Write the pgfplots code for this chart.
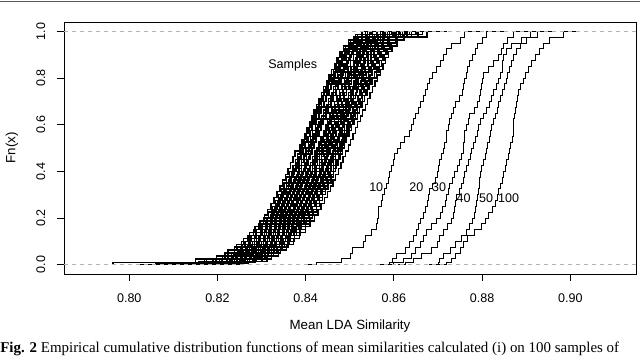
\documentclass[border=0pt]{standalone}
\usepackage{fontspec}
\setmainfont{Liberation Sans}
\newfontfamily\capfont{Liberation Serif}
\usepackage{pgfplots}
\usepackage{pgfplotstable}
\pgfplotsset{compat=1.18}
\definecolor{gray70}{RGB}{179,179,179}

% ECDFs of the samples, one column per sample
\pgfplotstableread{
F c1 c2 c3 c4 c5 c6 c7 c8 c9 c10 c11 c12 c13 c14 c15 c16 c17 c18 c19 c20
0 0.8070 0.7961 0.8100 0.8030 0.8120 0.8055 0.8135 0.8090 0.8150 0.8110 0.8160 0.8125 0.8175 0.8145 0.8185 0.8165 0.8195 0.8180 0.8205 0.8215
0.01 0.8110 0.7963 0.8140 0.8070 0.8160 0.8095 0.8175 0.8130 0.8190 0.8150 0.8200 0.8165 0.8215 0.8185 0.8225 0.8205 0.8235 0.8220 0.8245 0.8255
0.025 0.8170 0.8150 0.8196 0.8175 0.8210 0.8190 0.8222 0.8205 0.8232 0.8228 0.8238 0.8230 0.8250 0.8245 0.8258 0.8252 0.8268 0.8262 0.8280 0.8285
0.05 0.8217 0.8224 0.8232 0.8236 0.8242 0.8246 0.8252 0.8256 0.8262 0.8266 0.8272 0.8276 0.8282 0.8286 0.8292 0.8296 0.8302 0.8308 0.8314 0.8322
0.075 0.8238 0.8245 0.8253 0.8257 0.8263 0.8267 0.8273 0.8277 0.8283 0.8287 0.8293 0.8297 0.8303 0.8307 0.8313 0.8317 0.8323 0.8329 0.8335 0.8343
0.1 0.8255 0.8262 0.8270 0.8274 0.8280 0.8284 0.8290 0.8294 0.8300 0.8304 0.8310 0.8314 0.8320 0.8324 0.8330 0.8334 0.8340 0.8346 0.8352 0.8360
0.125 0.8269 0.8276 0.8284 0.8288 0.8294 0.8298 0.8304 0.8308 0.8314 0.8318 0.8324 0.8328 0.8334 0.8338 0.8344 0.8348 0.8354 0.8360 0.8366 0.8374
0.15 0.8282 0.8289 0.8297 0.8301 0.8307 0.8311 0.8317 0.8321 0.8327 0.8331 0.8337 0.8341 0.8347 0.8351 0.8357 0.8361 0.8367 0.8373 0.8379 0.8387
0.175 0.8294 0.8301 0.8309 0.8313 0.8319 0.8323 0.8329 0.8333 0.8339 0.8343 0.8349 0.8353 0.8359 0.8363 0.8369 0.8373 0.8379 0.8385 0.8391 0.8399
0.2 0.8305 0.8312 0.8320 0.8324 0.8330 0.8334 0.8340 0.8344 0.8350 0.8354 0.8360 0.8364 0.8370 0.8374 0.8380 0.8384 0.8390 0.8396 0.8402 0.8410
0.225 0.8316 0.8322 0.8326 0.8334 0.8336 0.8344 0.8346 0.8354 0.8356 0.8364 0.8366 0.8374 0.8376 0.8384 0.8386 0.8394 0.8396 0.8406 0.8408 0.8416
0.25 0.8324 0.8330 0.8334 0.8342 0.8344 0.8352 0.8354 0.8362 0.8364 0.8372 0.8374 0.8382 0.8384 0.8392 0.8394 0.8402 0.8404 0.8414 0.8416 0.8424
0.275 0.8331 0.8337 0.8341 0.8349 0.8351 0.8359 0.8361 0.8369 0.8371 0.8379 0.8381 0.8389 0.8391 0.8399 0.8401 0.8409 0.8411 0.8421 0.8423 0.8431
0.3 0.8338 0.8344 0.8348 0.8356 0.8358 0.8366 0.8368 0.8376 0.8378 0.8386 0.8388 0.8396 0.8398 0.8406 0.8408 0.8416 0.8418 0.8428 0.8430 0.8438
0.325 0.8345 0.8351 0.8355 0.8363 0.8365 0.8373 0.8375 0.8383 0.8385 0.8393 0.8395 0.8403 0.8405 0.8413 0.8415 0.8423 0.8425 0.8435 0.8437 0.8445
0.35 0.8351 0.8357 0.8361 0.8369 0.8371 0.8379 0.8381 0.8389 0.8391 0.8399 0.8401 0.8409 0.8411 0.8419 0.8421 0.8429 0.8431 0.8441 0.8443 0.8451
0.375 0.8357 0.8363 0.8367 0.8375 0.8377 0.8385 0.8387 0.8395 0.8397 0.8405 0.8407 0.8415 0.8417 0.8425 0.8427 0.8435 0.8437 0.8447 0.8449 0.8457
0.4 0.8363 0.8369 0.8373 0.8381 0.8383 0.8391 0.8393 0.8401 0.8403 0.8411 0.8413 0.8421 0.8423 0.8431 0.8433 0.8441 0.8443 0.8453 0.8455 0.8463
0.425 0.8371 0.8377 0.8379 0.8385 0.8391 0.8399 0.8397 0.8409 0.8411 0.8415 0.8421 0.8425 0.8431 0.8439 0.8437 0.8447 0.8451 0.8457 0.8463 0.8467
0.45 0.8377 0.8383 0.8385 0.8391 0.8397 0.8405 0.8403 0.8415 0.8417 0.8421 0.8427 0.8431 0.8437 0.8445 0.8443 0.8453 0.8457 0.8463 0.8469 0.8473
0.475 0.8382 0.8388 0.8390 0.8396 0.8402 0.8410 0.8408 0.8420 0.8422 0.8426 0.8432 0.8436 0.8442 0.8450 0.8448 0.8458 0.8462 0.8468 0.8474 0.8478
0.5 0.8387 0.8393 0.8395 0.8401 0.8407 0.8415 0.8413 0.8425 0.8427 0.8431 0.8437 0.8441 0.8447 0.8455 0.8453 0.8463 0.8467 0.8473 0.8479 0.8483
0.525 0.8392 0.8398 0.8400 0.8406 0.8412 0.8420 0.8418 0.8430 0.8432 0.8436 0.8442 0.8446 0.8452 0.8460 0.8458 0.8468 0.8472 0.8478 0.8484 0.8488
0.55 0.8397 0.8403 0.8405 0.8411 0.8417 0.8425 0.8423 0.8435 0.8437 0.8441 0.8447 0.8451 0.8457 0.8465 0.8463 0.8473 0.8477 0.8483 0.8489 0.8493
0.575 0.8402 0.8408 0.8410 0.8416 0.8422 0.8430 0.8428 0.8440 0.8442 0.8446 0.8452 0.8456 0.8462 0.8470 0.8468 0.8478 0.8482 0.8488 0.8494 0.8498
0.6 0.8408 0.8414 0.8416 0.8422 0.8428 0.8436 0.8434 0.8446 0.8448 0.8452 0.8458 0.8462 0.8468 0.8476 0.8474 0.8484 0.8488 0.8494 0.8500 0.8504
0.625 0.8415 0.8419 0.8423 0.8425 0.8435 0.8439 0.8441 0.8449 0.8457 0.8455 0.8465 0.8465 0.8475 0.8479 0.8481 0.8487 0.8495 0.8497 0.8507 0.8511
0.65 0.8421 0.8425 0.8429 0.8431 0.8441 0.8445 0.8447 0.8455 0.8463 0.8461 0.8471 0.8471 0.8481 0.8485 0.8487 0.8493 0.8501 0.8503 0.8513 0.8517
0.675 0.8426 0.8430 0.8434 0.8436 0.8446 0.8450 0.8452 0.8460 0.8468 0.8466 0.8476 0.8476 0.8486 0.8490 0.8492 0.8498 0.8506 0.8508 0.8518 0.8522
0.7 0.8432 0.8436 0.8440 0.8442 0.8452 0.8456 0.8458 0.8466 0.8474 0.8472 0.8482 0.8482 0.8492 0.8496 0.8498 0.8504 0.8512 0.8514 0.8524 0.8528
0.725 0.8437 0.8441 0.8445 0.8447 0.8457 0.8461 0.8463 0.8471 0.8479 0.8477 0.8487 0.8487 0.8497 0.8501 0.8503 0.8509 0.8517 0.8519 0.8529 0.8533
0.75 0.8443 0.8447 0.8451 0.8453 0.8463 0.8467 0.8469 0.8477 0.8485 0.8483 0.8493 0.8493 0.8503 0.8507 0.8509 0.8515 0.8523 0.8525 0.8535 0.8539
0.775 0.8448 0.8452 0.8456 0.8458 0.8468 0.8472 0.8474 0.8482 0.8490 0.8488 0.8498 0.8498 0.8508 0.8512 0.8514 0.8520 0.8528 0.8530 0.8540 0.8544
0.8 0.8454 0.8458 0.8462 0.8464 0.8474 0.8478 0.8480 0.8488 0.8496 0.8494 0.8504 0.8504 0.8514 0.8518 0.8520 0.8526 0.8534 0.8536 0.8546 0.8550
0.825 0.8463 0.8466 0.8472 0.8468 0.8482 0.8480 0.8490 0.8496 0.8504 0.8498 0.8512 0.8508 0.8522 0.8522 0.8530 0.8528 0.8542 0.8538 0.8556 0.8560
0.85 0.8469 0.8472 0.8478 0.8474 0.8488 0.8486 0.8496 0.8502 0.8510 0.8504 0.8518 0.8514 0.8528 0.8528 0.8536 0.8534 0.8548 0.8544 0.8562 0.8566
0.875 0.8475 0.8478 0.8484 0.8480 0.8494 0.8492 0.8502 0.8508 0.8516 0.8510 0.8524 0.8520 0.8534 0.8534 0.8542 0.8540 0.8554 0.8550 0.8568 0.8572
0.9 0.8482 0.8485 0.8491 0.8487 0.8501 0.8499 0.8509 0.8515 0.8523 0.8517 0.8531 0.8527 0.8541 0.8541 0.8549 0.8547 0.8561 0.8557 0.8575 0.8579
0.925 0.8489 0.8492 0.8498 0.8494 0.8508 0.8506 0.8516 0.8522 0.8530 0.8524 0.8538 0.8534 0.8548 0.8548 0.8556 0.8554 0.8568 0.8564 0.8582 0.8586
0.95 0.8498 0.8501 0.8507 0.8503 0.8517 0.8515 0.8525 0.8531 0.8539 0.8533 0.8547 0.8543 0.8557 0.8557 0.8565 0.8563 0.8577 0.8573 0.8591 0.8595
0.975 0.8510 0.8513 0.8519 0.8515 0.8529 0.8527 0.8537 0.8543 0.8551 0.8545 0.8559 0.8555 0.8569 0.8569 0.8577 0.8575 0.8589 0.8585 0.8603 0.8607
1 0.8540 0.8528 0.8552 0.8560 0.8545 0.8570 0.8562 0.8590 0.8580 0.8600 0.8585 0.8610 0.8598 0.8620 0.8605 0.8640 0.8615 0.8655 0.8630 0.8675
1 0.8585 0.8573 0.8597 0.8605 0.8590 0.8615 0.8607 0.8635 0.8625 0.8645 0.8630 0.8655 0.8643 0.8665 0.8650 0.8685 0.8660 0.8700 0.8675 0.8720
}\band

% more samples, with their steps at other heights
\pgfplotstableread{
F d1 d2 d3 d4 d5 d6 d7 d8 d9 d10 d11 d12
0 0.8020 0.8080 0.8105 0.8040 0.8130 0.8090 0.8150 0.8120 0.8165 0.8140 0.8190 0.8200
0.005 0.8060 0.8120 0.8145 0.8080 0.8170 0.8130 0.8190 0.8160 0.8205 0.8180 0.8230 0.8240
0.0125 0.8157 0.8171 0.8182 0.8192 0.8202 0.8212 0.8222 0.8232 0.8242 0.8248 0.8260 0.8271
0.0375 0.8198 0.8212 0.8223 0.8233 0.8243 0.8253 0.8263 0.8273 0.8283 0.8289 0.8301 0.8312
0.0625 0.8224 0.8238 0.8249 0.8259 0.8269 0.8279 0.8289 0.8299 0.8309 0.8315 0.8327 0.8338
0.0875 0.8243 0.8257 0.8268 0.8278 0.8288 0.8298 0.8308 0.8318 0.8328 0.8334 0.8346 0.8357
0.1125 0.8259 0.8273 0.8284 0.8294 0.8304 0.8314 0.8324 0.8334 0.8344 0.8350 0.8362 0.8373
0.1375 0.8272 0.8286 0.8297 0.8307 0.8317 0.8327 0.8337 0.8347 0.8357 0.8363 0.8375 0.8386
0.1625 0.8285 0.8299 0.8310 0.8320 0.8330 0.8340 0.8350 0.8360 0.8370 0.8376 0.8388 0.8399
0.1875 0.8296 0.8310 0.8321 0.8331 0.8341 0.8351 0.8361 0.8371 0.8381 0.8387 0.8399 0.8410
0.2125 0.8306 0.8320 0.8331 0.8341 0.8351 0.8361 0.8371 0.8381 0.8391 0.8397 0.8409 0.8420
0.2375 0.8314 0.8328 0.8339 0.8349 0.8359 0.8369 0.8379 0.8389 0.8399 0.8405 0.8417 0.8428
0.2625 0.8321 0.8335 0.8346 0.8356 0.8366 0.8376 0.8386 0.8396 0.8406 0.8412 0.8424 0.8435
0.2875 0.8328 0.8342 0.8353 0.8363 0.8373 0.8383 0.8393 0.8403 0.8413 0.8419 0.8431 0.8442
0.3125 0.8335 0.8349 0.8360 0.8370 0.8380 0.8390 0.8400 0.8410 0.8420 0.8426 0.8438 0.8449
0.3375 0.8342 0.8356 0.8367 0.8377 0.8387 0.8397 0.8407 0.8417 0.8427 0.8433 0.8445 0.8456
0.3625 0.8348 0.8362 0.8373 0.8383 0.8393 0.8403 0.8413 0.8423 0.8433 0.8439 0.8451 0.8462
0.3875 0.8354 0.8368 0.8379 0.8389 0.8399 0.8409 0.8419 0.8429 0.8439 0.8445 0.8457 0.8468
0.4125 0.8360 0.8374 0.8385 0.8395 0.8405 0.8415 0.8425 0.8435 0.8445 0.8451 0.8463 0.8474
0.4375 0.8366 0.8380 0.8391 0.8401 0.8411 0.8421 0.8431 0.8441 0.8451 0.8457 0.8469 0.8480
0.4625 0.8371 0.8385 0.8396 0.8406 0.8416 0.8426 0.8436 0.8446 0.8456 0.8462 0.8474 0.8485
0.4875 0.8376 0.8390 0.8401 0.8411 0.8421 0.8431 0.8441 0.8451 0.8461 0.8467 0.8479 0.8490
0.5125 0.8387 0.8391 0.8409 0.8413 0.8430 0.8438 0.8448 0.8452 0.8464 0.8477 0.8480 0.8497
0.5375 0.8392 0.8396 0.8414 0.8418 0.8435 0.8443 0.8453 0.8457 0.8469 0.8482 0.8485 0.8502
0.5625 0.8397 0.8401 0.8419 0.8423 0.8440 0.8448 0.8458 0.8462 0.8474 0.8487 0.8490 0.8507
0.5875 0.8403 0.8407 0.8425 0.8429 0.8446 0.8454 0.8464 0.8468 0.8480 0.8493 0.8496 0.8513
0.6125 0.8408 0.8412 0.8430 0.8434 0.8451 0.8459 0.8469 0.8473 0.8485 0.8498 0.8501 0.8518
0.6375 0.8414 0.8418 0.8436 0.8440 0.8457 0.8465 0.8475 0.8479 0.8491 0.8504 0.8507 0.8524
0.6625 0.8419 0.8423 0.8441 0.8445 0.8462 0.8470 0.8480 0.8484 0.8496 0.8509 0.8512 0.8529
0.6875 0.8425 0.8429 0.8447 0.8451 0.8468 0.8476 0.8486 0.8490 0.8502 0.8515 0.8518 0.8535
0.7125 0.8430 0.8434 0.8452 0.8456 0.8473 0.8481 0.8491 0.8495 0.8507 0.8520 0.8523 0.8540
0.7375 0.8436 0.8440 0.8458 0.8462 0.8479 0.8487 0.8497 0.8501 0.8513 0.8526 0.8529 0.8546
0.7625 0.8441 0.8445 0.8463 0.8467 0.8484 0.8492 0.8502 0.8506 0.8518 0.8531 0.8534 0.8551
0.7875 0.8447 0.8451 0.8469 0.8473 0.8490 0.8498 0.8508 0.8512 0.8524 0.8537 0.8540 0.8557
0.8125 0.8453 0.8457 0.8475 0.8479 0.8496 0.8504 0.8514 0.8518 0.8530 0.8543 0.8546 0.8563
0.8375 0.8459 0.8463 0.8481 0.8485 0.8502 0.8510 0.8520 0.8524 0.8536 0.8549 0.8552 0.8569
0.8625 0.8465 0.8469 0.8487 0.8491 0.8508 0.8516 0.8526 0.8530 0.8542 0.8555 0.8558 0.8575
0.8875 0.8471 0.8475 0.8493 0.8497 0.8514 0.8522 0.8532 0.8536 0.8548 0.8561 0.8564 0.8581
0.9125 0.8478 0.8482 0.8500 0.8504 0.8521 0.8529 0.8539 0.8543 0.8555 0.8568 0.8571 0.8588
0.9375 0.8486 0.8490 0.8508 0.8512 0.8529 0.8537 0.8547 0.8551 0.8563 0.8576 0.8579 0.8596
0.9625 0.8497 0.8501 0.8519 0.8523 0.8540 0.8548 0.8558 0.8562 0.8574 0.8587 0.8590 0.8607
0.9875 0.8513 0.8517 0.8535 0.8539 0.8556 0.8564 0.8574 0.8578 0.8590 0.8603 0.8606 0.8623
1 0.8535 0.8548 0.8560 0.8575 0.8580 0.8595 0.8612 0.8600 0.8625 0.8650 0.8635 0.8665
1 0.8580 0.8593 0.8605 0.8620 0.8625 0.8640 0.8657 0.8645 0.8670 0.8695 0.8680 0.8710
}\bandb

% ECDFs for the sample sizes 10, 20, 30, 40, 50, 100
\pgfplotstableread{
F n10 n20 n30 n40 n50 n100
0 0.8400 0.8560 0.8585 0.8610 0.8680 0.8700
0.01 0.8425 0.8590 0.8600 0.8625 0.8700 0.8720
0.025 0.8480 0.8596 0.8622 0.8645 0.8703 0.8730
0.05 0.8502 0.8606 0.8640 0.8662 0.8712 0.8739
0.075 0.8505 0.8625 0.8648 0.8685 0.8728 0.8750
0.1 0.8531 0.8636 0.8660 0.8698 0.8740 0.8758
0.125 0.8536 0.8645 0.8668 0.8704 0.8752 0.8766
0.15 0.8548 0.8652 0.8674 0.8712 0.8764 0.8783
0.175 0.8560 0.8655 0.8685 0.8722 0.8772 0.8798
0.2 0.8563 0.8660 0.8697 0.8730 0.8778 0.8808
0.225 0.8564 0.8667 0.8705 0.8734 0.8782 0.8815
0.25 0.8566 0.8672 0.8711 0.8737 0.8785 0.8824
0.275 0.8571 0.8676 0.8716 0.8739 0.8787 0.8831
0.3 0.8575 0.8679 0.8720 0.8742 0.8789 0.8835
0.325 0.8579 0.8681 0.8723 0.8748 0.8791 0.8838
0.35 0.8583 0.8688 0.8726 0.8752 0.8793 0.8842
0.375 0.8587 0.8695 0.8732 0.8757 0.8795 0.8845
0.4 0.8590 0.8699 0.8738 0.8761 0.8797 0.8848
0.425 0.8594 0.8700 0.8744 0.8765 0.8799 0.8852
0.45 0.8598 0.8703 0.8749 0.8769 0.8803 0.8856
0.475 0.8602 0.8708 0.8754 0.8773 0.8807 0.8859
0.5 0.8607 0.8712 0.8757 0.8776 0.8810 0.8862
0.525 0.8615 0.8715 0.8758 0.8780 0.8813 0.8865
0.55 0.8624 0.8718 0.8759 0.8785 0.8816 0.8868
0.575 0.8635 0.8720 0.8761 0.8789 0.8818 0.8870
0.6 0.8640 0.8724 0.8765 0.8792 0.8822 0.8871
0.625 0.8645 0.8727 0.8769 0.8796 0.8826 0.8872
0.65 0.8649 0.8731 0.8772 0.8802 0.8830 0.8874
0.675 0.8655 0.8735 0.8782 0.8810 0.8834 0.8876
0.7 0.8661 0.8740 0.8790 0.8816 0.8838 0.8878
0.725 0.8666 0.8748 0.8795 0.8820 0.8842 0.8880
0.75 0.8671 0.8755 0.8797 0.8826 0.8846 0.8882
0.775 0.8676 0.8758 0.8799 0.8832 0.8850 0.8886
0.8 0.8681 0.8761 0.8801 0.8838 0.8854 0.8893
0.825 0.8688 0.8764 0.8803 0.8842 0.8858 0.8898
0.85 0.8697 0.8767 0.8814 0.8845 0.8862 0.8904
0.875 0.8705 0.8772 0.8825 0.8846 0.8867 0.8912
0.9 0.8712 0.8778 0.8838 0.8848 0.8872 0.8922
0.925 0.8720 0.8784 0.8844 0.8856 0.8878 0.8930
0.95 0.8730 0.8790 0.8848 0.8866 0.8886 0.8938
0.975 0.8750 0.8800 0.8858 0.8890 0.8900 0.8952
1 0.8761 0.8810 0.8871 0.8909 0.8925 0.8984
1 0.8800 0.8850 0.8910 0.8950 0.8965 0.9023
}\sizes

\begin{document}
\begin{tikzpicture}
\useasboundingbox (0,0) rectangle (480pt,267.75pt);
\draw[line width=0.9pt, black!65] (0,266.4pt) -- (480pt,266.4pt);
\begin{axis}[
  at={(48pt,62.25pt)}, anchor=south west,
  scale only axis,
  width=429pt, height=189pt,
  xmin=0.7852, xmax=0.9149,
  ymin=-0.04, ymax=1.04,
  xtick={0.80,0.82,0.84,0.86,0.88,0.90},
  xticklabels={0.80,0.82,0.84,0.86,0.88,0.90},
  ytick={0,0.2,0.4,0.6,0.8,1},
  yticklabels={0.0,0.2,0.4,0.6,0.8,1.0},
  tick align=outside,
  xtick pos=bottom, ytick pos=left,
  major tick length=5.25pt,
  tick style={black, line width=0.6pt},
  axis line style={line width=0.7pt},
  tick label style={font=\fontsize{9.4}{11}\selectfont},
  xticklabel style={anchor=center, yshift=-12.75pt},
  yticklabel style={xshift=-12.15pt, rotate=90, anchor=center},
  xlabel={Mean LDA Similarity},
  ylabel={Fn(x)},
  label style={font=\fontsize{9.4}{11}\selectfont},
  every axis x label/.style={at={(axis description cs:0.5,-0.2083)}, anchor=center},
  every axis y label/.style={at={(axis description cs:-0.0909,0.5)}, rotate=90, anchor=center},
]

\pgfplotsinvokeforeach{1,...,20}{
  \addplot[black, line width=1.05pt, const plot] table[x=c#1, y=F]{\band};
}
\pgfplotsinvokeforeach{1,...,12}{
  \addplot[black, line width=1.05pt, const plot] table[x=d#1, y=F]{\bandb};
}

\addplot[black, line width=0.6pt, const plot] table[x=n10, y=F]{\sizes};
\addplot[black, line width=0.6pt, const plot] table[x=n20, y=F]{\sizes};
\addplot[black, line width=0.6pt, const plot] table[x=n30, y=F]{\sizes};
\addplot[black, line width=0.6pt, const plot] table[x=n40, y=F]{\sizes};
\addplot[black, line width=0.6pt, const plot] table[x=n50, y=F]{\sizes};
\addplot[black, line width=0.6pt, const plot] table[x=n100, y=F]{\sizes};

\addplot[gray70, line width=0.6pt, dash pattern=on 3pt off 3pt] coordinates {(0.7852,0) (0.9149,0)};
\addplot[gray70, line width=0.6pt, dash pattern=on 3pt off 3pt] coordinates {(0.7852,1) (0.9149,1)};

\node[font=\fontsize{9.4}{11}\selectfont] at (axis cs:0.83707,0.854) {Samples};
\node[font=\fontsize{9.4}{11}\selectfont] at (axis cs:0.8560,0.330) {10};
\node[font=\fontsize{9.4}{11}\selectfont] at (axis cs:0.86508,0.330) {20};
\node[font=\fontsize{9.4}{11}\selectfont] at (axis cs:0.87027,0.330) {30};
\node[font=\fontsize{9.4}{11}\selectfont] at (axis cs:0.8758,0.285) {40};
\node[font=\fontsize{9.4}{11}\selectfont] at (axis cs:0.8809,0.285) {50};
\node[font=\fontsize{9.4}{11}\selectfont] at (axis cs:0.8860,0.285) {100};
\end{axis}
\node[anchor=base west, inner sep=0pt, font=\capfont\fontsize{11.2}{13}\selectfont]
  at (0,3pt) {\textbf{Fig. 2} Empirical cumulative distribution functions of mean similarities calculated (i) on 100 samples of};
\end{tikzpicture}
\end{document}
